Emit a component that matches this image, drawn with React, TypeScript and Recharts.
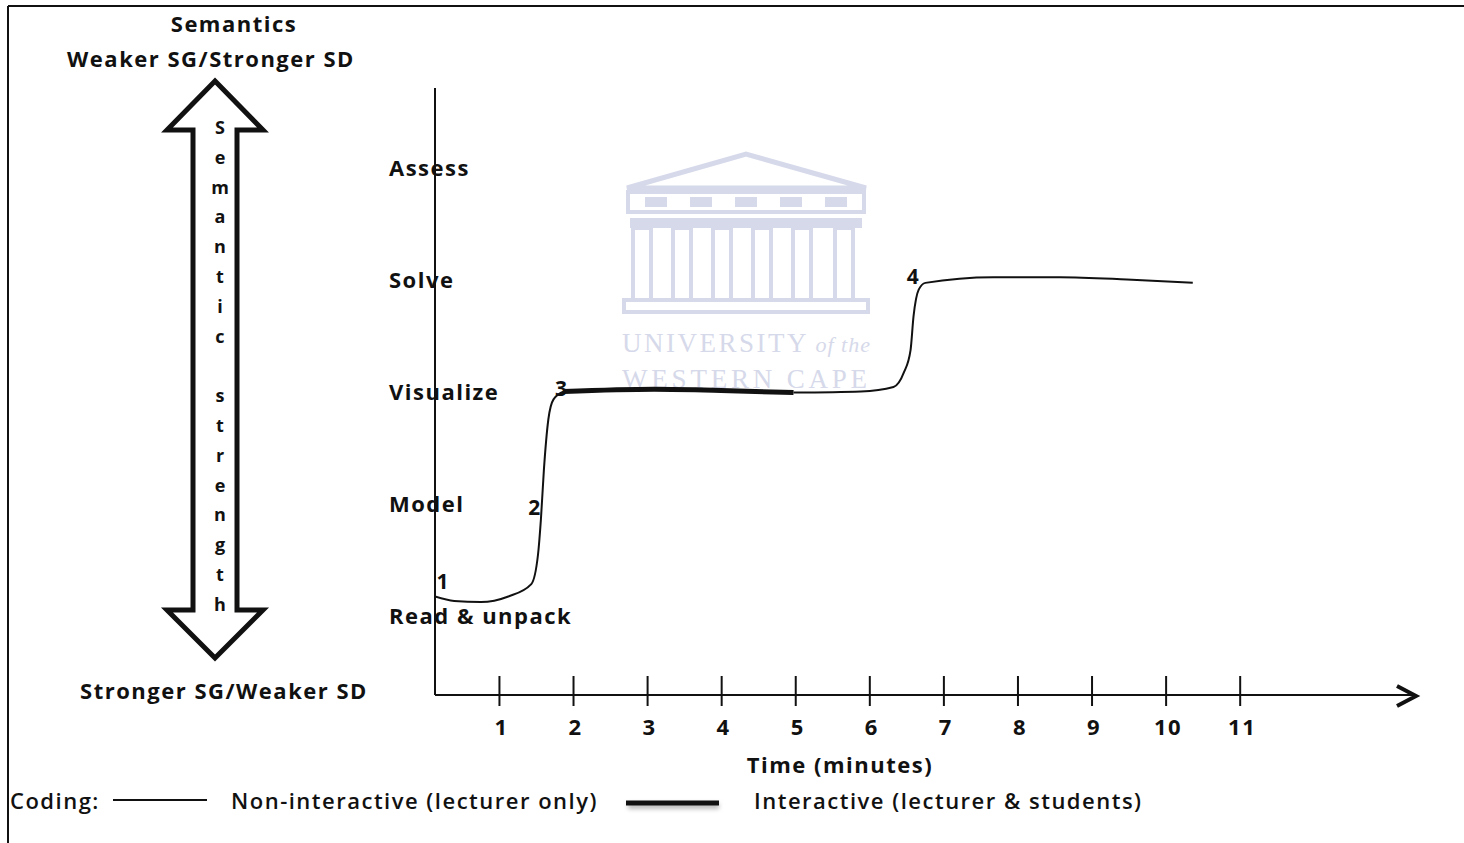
import React from 'react';
import { ComposedChart, Line, Scatter, XAxis, YAxis } from 'recharts';

const FONT = "'Open Sans', sans-serif";

// semantic levels, bottom to top
const levels = ['Read & unpack', 'Model', 'Visualize', 'Solve', 'Assess'];
const levelValues = [1, 2, 3, 4, 5];
const timeTicks = [1, 2, 3, 4, 5, 6, 7, 8, 9, 10, 11];

// non-interactive: opening read-through up to point 3
const nonInteractiveA = [
  { t: 0.13, v: 1.18 },
  { t: 0.39, v: 1.14 },
  { t: 0.75, v: 1.13 },
  { t: 1.12, v: 1.18 },
  { t: 1.43, v: 1.29 },
  { t: 1.52, v: 1.55 },
  { t: 1.56, v: 1.87 },
  { t: 1.6, v: 2.31 },
  { t: 1.66, v: 2.76 },
  { t: 1.73, v: 2.94 },
  { t: 1.87, v: 3.01 },
];

// interactive stretch at Visualize
const interactive = [
  { t: 1.87, v: 3.01 },
  { t: 3.09, v: 3.03 },
  { t: 3.99, v: 3.02 },
  { t: 4.97, v: 3.0 },
];

// non-interactive: rest of the lesson
const nonInteractiveB = [
  { t: 4.97, v: 3.0 },
  { t: 5.88, v: 3.01 },
  { t: 6.32, v: 3.05 },
  { t: 6.46, v: 3.18 },
  { t: 6.55, v: 3.38 },
  { t: 6.59, v: 3.68 },
  { t: 6.66, v: 3.92 },
  { t: 6.75, v: 3.98 },
  { t: 7.67, v: 4.03 },
  { t: 8.57, v: 4.03 },
  { t: 9.47, v: 4.01 },
  { t: 10.36, v: 3.98 },
];

const markers = [
  { t: 0.23, v: 1.32, label: '1' },
  { t: 1.47, v: 1.98, label: '2' },
  { t: 1.83, v: 3.04, label: '3' },
  { t: 6.58, v: 4.04, label: '4' },
];

const arrowLetters = 'Semantic strength'.split('');

const txt: React.CSSProperties = {
  position: 'absolute',
  fontFamily: FONT,
  fontWeight: 700,
  fontSize: 22,
  letterSpacing: 1.5,
  color: '#111',
  whiteSpace: 'nowrap',
  lineHeight: 1,
};

function XTick(props: any) {
  const { x, y, payload } = props;
  return (
    <g>
      <line x1={x} x2={x} y1={y - 19} y2={y + 11} stroke="#111" strokeWidth={2} />
      <text
        x={x + 2}
        y={y + 31}
        textAnchor="middle"
        dominantBaseline="central"
        fontFamily={FONT}
        fontWeight={700}
        fontSize={22}
        letterSpacing={1.5}
        fill="#111"
      >
        {payload.value}
      </text>
    </g>
  );
}

function YTick(props: any) {
  const { x, y, payload } = props;
  return (
    <text
      x={x - 46}
      y={y - 2}
      textAnchor="start"
      dominantBaseline="central"
      fontFamily={FONT}
      fontWeight={700}
      fontSize={22}
      letterSpacing={1.5}
      fill="#111"
    >
      {levels[levelValues.indexOf(payload.value)]}
    </text>
  );
}

function MarkerLabel(props: any) {
  const { cx, cy, payload } = props;
  return (
    <text
      x={cx}
      y={cy}
      textAnchor="middle"
      dominantBaseline="central"
      fontFamily={FONT}
      fontWeight={700}
      fontSize={21}
      fill="#111"
    >
      {payload.label}
    </text>
  );
}

function Watermark() {
  const c = '#d6d9ea';
  const cols = [642, 682, 722, 762, 802, 844];
  return (
    <svg width={1464} height={843} style={{ position: 'absolute', left: 0, top: 0 }}>
      <polygon points="627,188 746,154 866,188" fill="none" stroke={c} strokeWidth={5} />
      <rect x={628} y={192} width={236} height={20} fill="none" stroke={c} strokeWidth={4} />
      {[645, 690, 735, 780, 825].map((x) => (
        <rect key={x} x={x} y={197} width={22} height={10} fill={c} />
      ))}
      <rect x={630} y={218} width={232} height={10} fill={c} />
      {cols.map((x) => (
        <rect key={x} x={x - 9} y={228} width={18} height={72} fill="none" stroke={c} strokeWidth={4} />
      ))}
      <rect x={624} y={300} width={244} height={12} fill="none" stroke={c} strokeWidth={4} />
      <text x={622} y={352} fontFamily="'Liberation Serif', serif" fontSize={27} letterSpacing={2.5} fill={c}>
        UNIVERSITY
        <tspan fontStyle="italic" fontSize={22} letterSpacing={1}>
          {' of the'}
        </tspan>
      </text>
      <text x={622} y={388} fontFamily="'Liberation Serif', serif" fontSize={27} letterSpacing={3.8} fill={c}>
        WESTERN CAPE
      </text>
    </svg>
  );
}

function Decorations() {
  return (
    <svg width={1464} height={843} style={{ position: 'absolute', left: 0, top: 0, pointerEvents: 'none' }}>
      {/* frame */}
      <line x1={8} x2={1464} y1={6} y2={6} stroke="#111" strokeWidth={2} />
      <line x1={8} x2={8} y1={6} y2={843} stroke="#111" strokeWidth={2} />
      {/* double arrow */}
      <polygon
        points="215,81 263,130 237,130 237,610 263,610 215,658 167,610 193,610 193,130 167,130"
        fill="none"
        stroke="#111"
        strokeWidth={5}
        strokeLinejoin="miter"
      />
      {arrowLetters.map((ch, i) => (
        <text
          key={i}
          x={220}
          y={127 + i * 29.8}
          textAnchor="middle"
          dominantBaseline="central"
          fontFamily={FONT}
          fontWeight={700}
          fontSize={18}
          fill="#111"
        >
          {ch}
        </text>
      ))}
      {/* x axis arrowhead */}
      <polyline points="1397,686 1416,696 1397,706" fill="none" stroke="#111" strokeWidth={4} />
      {/* legend lines */}
      <line x1={113} x2={207} y1={800} y2={800} stroke="#111" strokeWidth={2} />
      <line x1={628} x2={719} y1={806} y2={806} stroke="#bbb" strokeWidth={6} style={{ filter: 'blur(2px)' }} />
      <line x1={626} x2={719} y1={803} y2={803} stroke="#111" strokeWidth={5} />
    </svg>
  );
}

export default function App() {
  return (
    <div style={{ position: 'absolute', left: 0, top: 0, width: 1464, height: 843, background: '#fff', overflow: 'hidden' }}>
      <Watermark />
      <div style={{ position: 'absolute', left: 0, top: 0 }}>
        <ComposedChart width={1464} height={843} margin={{ top: 88, right: 49, bottom: 147, left: 434 }}>
          <XAxis
            type="number"
            dataKey="t"
            domain={[0.13, 13.36]}
            allowDataOverflow
            ticks={timeTicks}
            height={1}
            tickSize={0}
            tickMargin={0}
            tickLine={false}
            tick={<XTick />}
            axisLine={{ stroke: '#111', strokeWidth: 2 }}
            interval={0}
          />
          <YAxis
            type="number"
            domain={[0.3, 5.72]}
            allowDataOverflow
            ticks={levelValues}
            width={1}
            tickSize={0}
            tickMargin={0}
            tickLine={false}
            tick={<YTick />}
            axisLine={{ stroke: '#111', strokeWidth: 2 }}
            interval={0}
          />
          <Line
            data={nonInteractiveA}
            dataKey="v"
            type="monotone"
            stroke="#111"
            strokeWidth={2}
            dot={false}
            isAnimationActive={false}
          />
          <Line
            data={interactive}
            dataKey="v"
            type="monotone"
            stroke="#111"
            strokeWidth={5}
            dot={false}
            isAnimationActive={false}
          />
          <Line
            data={nonInteractiveB}
            dataKey="v"
            type="monotone"
            stroke="#111"
            strokeWidth={2}
            dot={false}
            isAnimationActive={false}
          />
          <Scatter data={markers} dataKey="v" shape={<MarkerLabel />} isAnimationActive={false} />
        </ComposedChart>
      </div>
      <Decorations />
      <div style={{ ...txt, left: 234, top: 12, transform: 'translateX(-50%)' }}>Semantics</div>
      <div style={{ ...txt, left: 211, top: 47, transform: 'translateX(-50%)' }}>Weaker SG/Stronger SD</div>
      <div style={{ ...txt, left: 224, top: 679, transform: 'translateX(-50%)' }}>Stronger SG/Weaker SD</div>
      <div style={{ ...txt, left: 840, top: 753, transform: 'translateX(-50%)' }}>Time (minutes)</div>
      <div style={{ ...txt, left: 10, top: 789, fontWeight: 600 }}>Coding:</div>
      <div style={{ ...txt, left: 231, top: 789, fontWeight: 600 }}>Non-interactive (lecturer only)</div>
      <div style={{ ...txt, left: 754, top: 789, fontWeight: 600 }}>Interactive (lecturer &amp; students)</div>
    </div>
  );
}
